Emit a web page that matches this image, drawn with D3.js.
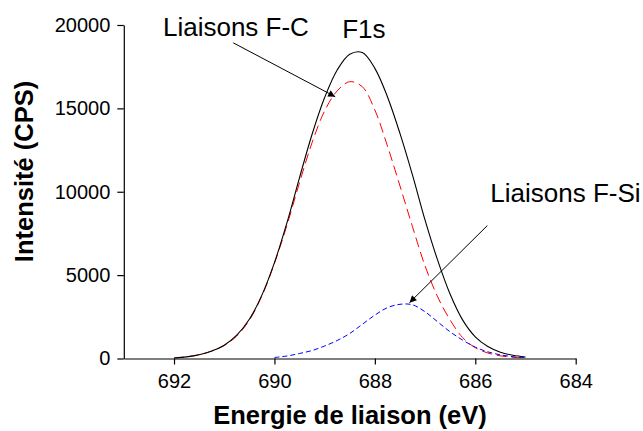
<!DOCTYPE html>
<html><head><meta charset="utf-8">
<script src="https://cdn.jsdelivr.net/npm/d3@7"></script>
<style>
html,body{margin:0;padding:0;background:#fff;}
svg{display:block;font-family:"Liberation Sans",Arial,sans-serif;}
</style></head>
<body><svg id="c" width="643" height="431"></svg>
<script>
// Binding energy grid (eV)
const energy = [692.0,691.75,691.5,691.25,691.0,690.75,690.5,690.25,690.0,689.75,689.5,689.25,689.0,688.75,688.5,688.25,688.0,687.75,687.5,687.25,687.0,686.75,686.5,686.25,686.0,685.75,685.5,685.25,685.0];
// Envelope F1s (CPS)
const total = [30,100,230,450,800,1400,2350,3800,5750,8150,10850,13450,15650,17300,18250,18350,17400,15700,13500,11000,8300,5900,3850,2300,1300,720,380,190,80];
// Component F-C (CPS)
const fc = [30,100,230,440,780,1350,2300,3750,5700,8000,10550,12950,14850,16050,16600,16300,14900,12750,10350,7900,5550,3700,2300,1250,650,330,160,70,30];
// Component F-Si (CPS), starts at 690 eV
const siEnergy = [690.0,689.75,689.5,689.25,689.0,688.75,688.5,688.25,688.0,687.75,687.5,687.25,687.0,686.75,686.5,686.25,686.0,685.75,685.5,685.25,685.0];
const fsi = [60,150,300,480,750,1080,1500,2050,2600,3050,3250,3220,2800,2200,1600,1100,680,400,220,110,40];

const xMajor = [692,690,688,686,684];
const xMinor = [693,691,689,687,685];
const yMajor = [0,5000,10000,15000,20000];
const yMinor = [2500,7500,12500,17500];

const svg = d3.select("#c");
const x = d3.scaleLinear().domain([693,684]).range([123.8,575.7]);
const y = d3.scaleLinear().domain([0,20000]).range([358.5,25]);

// axes
const gx = svg.append("g").attr("transform",`translate(0,${y(0)})`);
gx.call(d3.axisBottom(x).tickValues(xMinor).tickSize(4).tickSizeOuter(0).tickFormat(""));
gx.call(d3.axisBottom(x).tickValues(xMajor).tickSize(6).tickSizeOuter(0).tickPadding(9).tickFormat(d3.format("d")));
gx.selectAll("text").attr("font-size",20).attr("font-family","Liberation Sans, Arial, sans-serif").attr("fill","#000");
gx.selectAll("path,line").attr("stroke","#000").attr("stroke-width",1.2);

const gy = svg.append("g").attr("transform",`translate(${x(693)},0)`);
gy.call(d3.axisLeft(y).tickValues(yMinor).tickSize(4).tickSizeOuter(0).tickFormat(""));
gy.call(d3.axisLeft(y).tickValues(yMajor).tickSize(6.5).tickSizeOuter(0).tickPadding(7).tickFormat(d3.format("d")));
gy.selectAll("text").attr("font-size",20).attr("font-family","Liberation Sans, Arial, sans-serif").attr("fill","#000");
gy.selectAll("path,line").attr("stroke","#000").attr("stroke-width",1.2);

// titles
svg.append("text").attr("x",350).attr("y",424).attr("text-anchor","middle")
  .attr("font-size",25.5).attr("font-weight","bold").text("Energie de liaison (eV)");
svg.append("text").attr("transform","translate(33,171.5) rotate(-90)").attr("text-anchor","middle")
  .attr("font-size",25.5).attr("font-weight","bold").text("Intensité (CPS)");

// curves
const line = d3.line().x(d=>x(d[0])).y(d=>y(d[1])).curve(d3.curveCatmullRom.alpha(0.5));
svg.append("path").datum(energy.map((e,i)=>[e,fc[i]])).attr("d",line)
  .attr("fill","none").attr("stroke","#ff0000").attr("stroke-width",1).attr("stroke-dasharray","10,5");
svg.append("path").datum(siEnergy.map((e,i)=>[e,fsi[i]])).attr("d",line)
  .attr("fill","none").attr("stroke","#0000ff").attr("stroke-width",1).attr("stroke-dasharray","5,3");
svg.append("path").datum(energy.map((e,i)=>[e,total[i]])).attr("d",line)
  .attr("fill","none").attr("stroke","#000").attr("stroke-width",1.1);

// annotations
const defs = svg.append("defs");
defs.append("marker").attr("id","ah").attr("viewBox","0 0 10 10").attr("refX",10).attr("refY",5)
  .attr("markerWidth",10).attr("markerHeight",7).attr("markerUnits","userSpaceOnUse").attr("orient","auto")
  .append("path").attr("d","M0,0 L10,5 L0,10 z").attr("fill","#000");

const annotations = [
  {label:"Liaisons F-C", lx:692.22, ly:19350, ax0:690.82, ay0:18930, ax1:688.79, ay1:15700},
  {label:"F1s", lx:688.65, ly:19250},
  {label:"Liaisons F-Si", lx:685.7, ly:9410, ax0:685.76, ay0:7970, ax1:687.31, ay1:3350}
];
annotations.forEach(a=>{
  svg.append("text").attr("x",x(a.lx)).attr("y",y(a.ly)).attr("font-size",26).attr("fill","#000").text(a.label);
  if(a.ax0!==undefined){
    svg.append("line").attr("x1",x(a.ax0)).attr("y1",y(a.ay0)).attr("x2",x(a.ax1)).attr("y2",y(a.ay1))
      .attr("stroke","#000").attr("stroke-width",1).attr("marker-end","url(#ah)");
  }
});
</script></body></html>
